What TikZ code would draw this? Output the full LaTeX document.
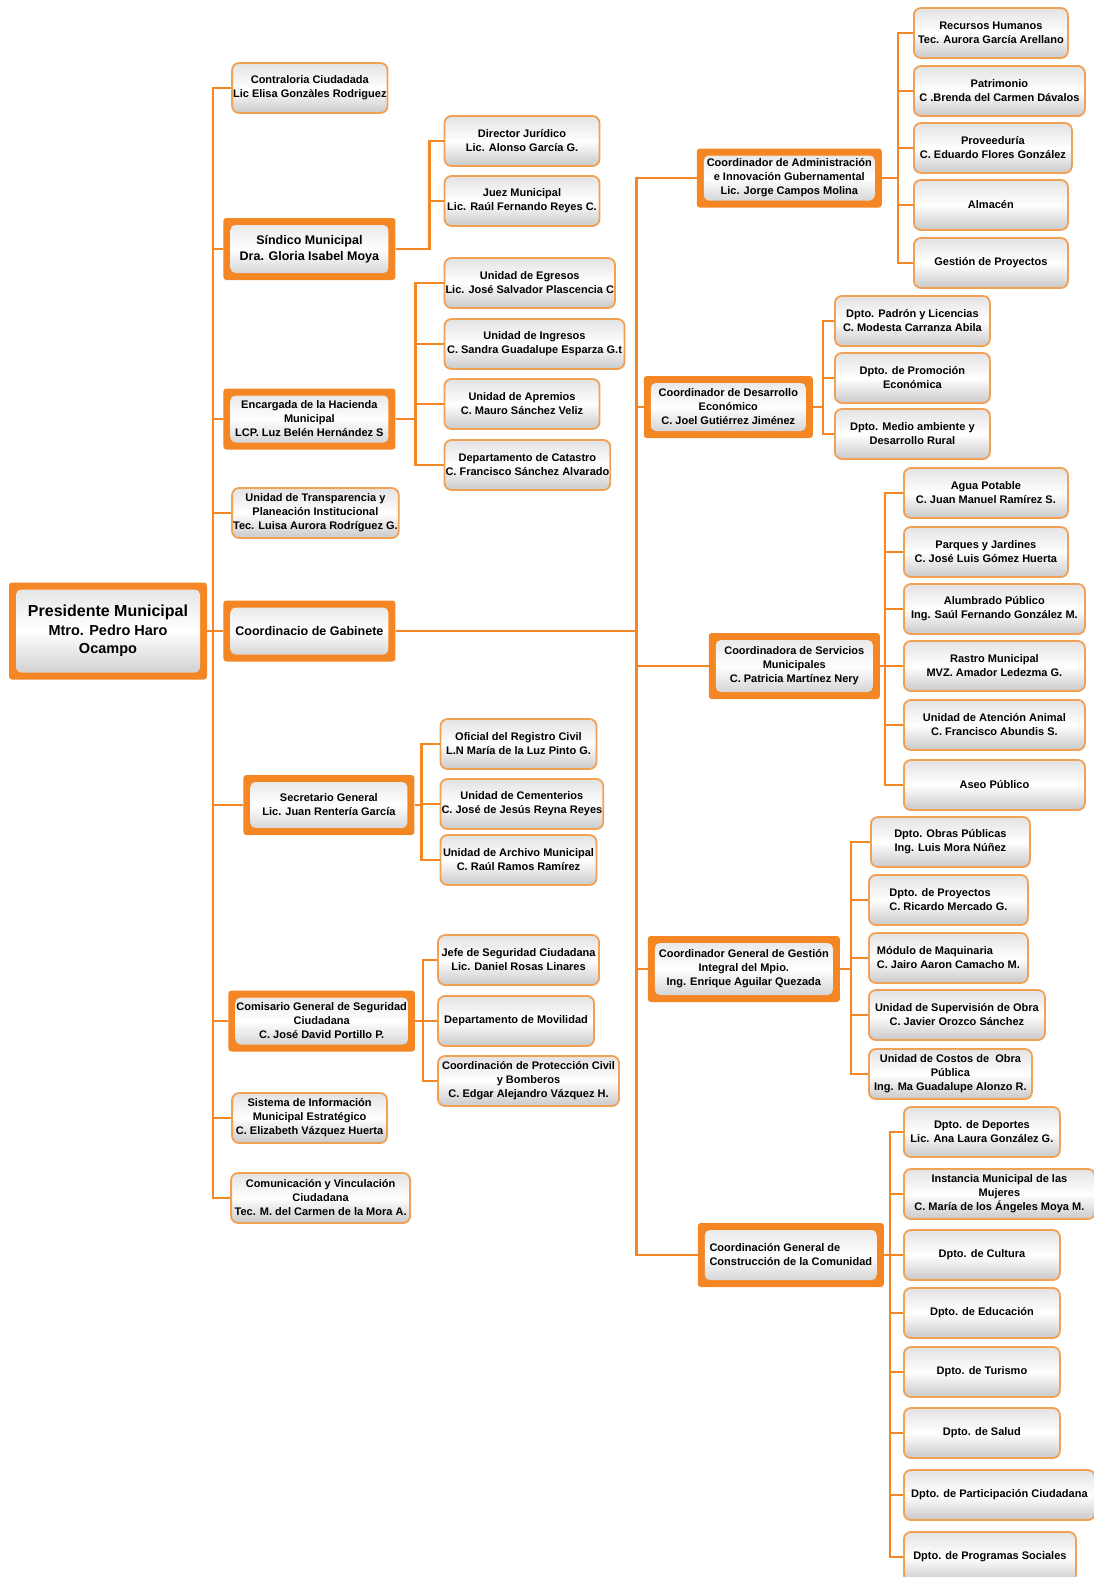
\documentclass[tikz,border=0pt]{standalone}
\usepackage{fontspec}
\setmainfont{Liberation Sans}
\usepackage{tikz}
\definecolor{naranja}{RGB}{245,134,36}
\definecolor{borde}{RGB}{242,160,84}
\newcommand{\unitfont}{\bfseries\fontsize{11}{14}\selectfont}
\newcommand{\bossfont}{\bfseries\fontsize{12.5}{15.5}\selectfont}
\tikzstyle{unit} = [rectangle, rounded corners=7pt, draw=borde, line width=1.8pt, top color=gray!22, bottom color=gray!42, middle color=white, align=center, anchor=west, minimum height=50pt, inner xsep=1pt, inner ysep=1pt, font=\unitfont]
\tikzstyle{boss} = [rectangle, rounded corners=3pt, fill=naranja, align=center, anchor=west, inner sep=8pt, font=\unitfont,
	path picture={\shade[top color=gray!22, bottom color=gray!42, middle color=white, rounded corners=5pt] ([shift={(7pt,-7pt)}]path picture bounding box.north west) rectangle ([shift={(-7pt,7pt)}]path picture bounding box.south east);}]
\tikzstyle{link} = [draw=naranja, line width=2.5pt]

\begin{document}
\begin{tikzpicture}
	\useasboundingbox (0pt,0pt) rectangle (1093pt,-1577pt);
	\node[boss, anchor=center, minimum width=198pt, minimum height=97pt, font=\bfseries\fontsize{14.5}{18.5}\selectfont] (pres) at (108pt,-631pt) {{\fontsize{16}{18.5}\selectfont Presidente Municipal}\\Mtro. Pedro Haro\\Ocampo};

	% izquierda
	\node[unit, minimum width=155pt] at ([xshift=24pt, yshift=543pt]pres.east) (contra) {Contraloria Ciudadada\\Lic Elisa Gonzàles Rodriguez};
	\node[boss, minimum width=172pt, minimum height=62pt, font=\bossfont] at ([xshift=16pt, yshift=382pt]pres.east) (sind) {Síndico Municipal\\Dra. Gloria Isabel Moya};
	\node[boss, minimum width=172pt, minimum height=61pt] at ([xshift=16pt, yshift=212pt]pres.east) (hac) {Encargada de la Hacienda\\Municipal\\LCP. Luz Belén Hernández S};
	\node[unit, minimum width=165pt] at ([xshift=24pt, yshift=118pt]pres.east) (transp) {Unidad de Transparencia y\\Planeación Institucional\\Tec. Luisa Aurora Rodríguez G.};
	\node[boss, minimum width=172pt, minimum height=61pt, font=\bossfont] at ([xshift=16pt]pres.east) (gab) {Coordinacio de Gabinete};
	\node[boss, minimum width=171pt, minimum height=60pt] at ([xshift=36pt, yshift=-174pt]pres.east) (sec) {Secretario General\\Lic. Juan Rentería García};
	\node[boss, minimum width=186pt, minimum height=61pt] at ([xshift=21pt, yshift=-390pt]pres.east) (com) {Comisario General de Seguridad\\Ciudadana\\C. José David Portillo P.};
	\node[unit, minimum width=155pt] at ([xshift=24pt, yshift=-487pt]pres.east) (sim) {Sistema de Información\\Municipal Estratégico\\C. Elizabeth Vázquez Huerta};
	\node[unit, minimum width=179pt] at ([xshift=23pt, yshift=-567pt]pres.east) (comu) {Comunicación y Vinculación\\Ciudadana\\Tec. M. del Carmen de la Mora A.};

	\node[unit, minimum width=155pt] at ([xshift=48pt, yshift=108pt]sind.east) (jur) {Director Jurídico\\Lic. Alonso García G.};
	\node[unit, minimum width=155pt] at ([xshift=48pt, yshift=48pt]sind.east) (juez) {Juez Municipal\\Lic. Raúl Fernando Reyes C.};

	\node[unit, minimum width=169pt] at ([xshift=48pt, yshift=136pt]hac.east) (egr) {Unidad de Egresos\\Lic. José Salvador Plascencia C};
	\node[unit, minimum width=180pt] at ([xshift=48pt, yshift=75pt]hac.east) (ing) {Unidad de Ingresos\\C. Sandra Guadalupe Esparza G.t};
	\node[unit, minimum width=155pt] at ([xshift=48pt, yshift=15pt]hac.east) (apr) {Unidad de Apremios\\C. Mauro Sánchez Veliz};
	\node[unit, minimum width=164pt] at ([xshift=48pt, yshift=-46pt]hac.east) (cat) {Departamento de Catastro\\C. Francisco Sánchez Alvarado};

	\node[unit, minimum width=156pt] at ([xshift=25pt, yshift=61pt]sec.east) (reg) {Oficial del Registro Civil\\L.N María de la Luz Pinto G.};
	\node[unit, minimum width=162pt] at ([xshift=25pt, yshift=1pt]sec.east) (cem) {Unidad de Cementerios\\C. José de Jesús Reyna Reyes};
	\node[unit, minimum width=156pt] at ([xshift=25pt, yshift=-55pt]sec.east) (arch) {Unidad de Archivo Municipal\\C. Raúl Ramos Ramírez};

	\node[unit, minimum width=161pt] at ([xshift=22pt, yshift=61pt]com.east) (jefe) {Jefe de Seguridad Ciudadana\\Lic. Daniel Rosas Linares};
	\node[unit, minimum width=156pt] at ([xshift=22pt]com.east) (mov) {Departamento de Movilidad};
	\node[unit, minimum width=181pt] at ([xshift=22pt, yshift=-60pt]com.east) (prot) {Coordinación de Protección Civil\\y Bomberos\\C. Edgar Alejandro Vázquez H.};

	% derecha
	\node[boss, minimum width=185pt, minimum height=59pt] at ([xshift=301pt, yshift=453pt]gab.east) (adm) {Coordinador de Administración\\e Innovación Gubernamental\\Lic. Jorge Campos Molina};
	\node[boss, minimum width=169pt, minimum height=62pt] at ([xshift=248pt, yshift=224pt]gab.east) (des) {Coordinador de Desarrollo\\Económico\\C. Joel Gutiérrez Jiménez};
	\node[boss, minimum width=171pt, minimum height=66pt] at ([xshift=313pt, yshift=-35pt]gab.east) (serv) {Coordinadora de Servicios\\Municipales\\C. Patricia Martínez Nery};
	\node[boss, minimum width=192pt, minimum height=66pt] at ([xshift=252pt, yshift=-338pt]gab.east) (ges) {Coordinador General de Gestión\\Integral del Mpio.\\Ing. Enrique Aguilar Quezada};
	\node[boss, minimum width=186pt, minimum height=64pt, align=left] at ([xshift=302pt, yshift=-624pt]gab.east) (cons) {Coordinación General de\\Construcción de la Comunidad};

	\node[unit, minimum width=154pt] at ([xshift=31pt, yshift=145pt]adm.east) (rh) {Recursos Humanos\\Tec. Aurora García Arellano};
	\node[unit, minimum width=171pt] at ([xshift=31pt, yshift=87pt]adm.east) (pat) {Patrimonio\\C .Brenda del Carmen Dávalos};
	\node[unit, minimum width=158pt] at ([xshift=31pt, yshift=30pt]adm.east) (prov) {Proveeduría\\C. Eduardo Flores González};
	\node[unit, minimum width=154pt] at ([xshift=31pt, yshift=-27pt]adm.east) (alm) {Almacén};
	\node[unit, minimum width=154pt] at ([xshift=31pt, yshift=-85pt]adm.east) (gproy) {Gestión de Proyectos};

	\node[unit, minimum width=155pt] at ([xshift=21pt, yshift=86pt]des.east) (pad) {Dpto. Padrón y Licencias\\C. Modesta Carranza Abila};
	\node[unit, minimum width=155pt] at ([xshift=21pt, yshift=29pt]des.east) (prom) {Dpto. de Promoción\\Económica};
	\node[unit, minimum width=155pt] at ([xshift=21pt, yshift=-27pt]des.east) (med) {Dpto. Medio ambiente y\\Desarrollo Rural};

	\node[unit, minimum width=164pt] at ([xshift=23pt, yshift=173pt]serv.east) (agua) {Agua Potable\\C. Juan Manuel Ramírez S.};
	\node[unit, minimum width=164pt] at ([xshift=23pt, yshift=114pt]serv.east) (parq) {Parques y Jardines\\C. José Luis Gómez Huerta};
	\node[unit, minimum width=181pt] at ([xshift=23pt, yshift=57pt]serv.east) (alum) {Alumbrado Público\\Ing. Saúl Fernando González M.};
	\node[unit, minimum width=181pt] at ([xshift=23pt]serv.east) (rast) {Rastro Municipal\\MVZ. Amador Ledezma G.};
	\node[unit, minimum width=181pt] at ([xshift=23pt, yshift=-59pt]serv.east) (aten) {Unidad de Atención Animal\\C. Francisco Abundis S.};
	\node[unit, minimum width=181pt] at ([xshift=23pt, yshift=-119pt]serv.east) (aseo) {Aseo Público};

	\node[unit, minimum width=159pt] at ([xshift=30pt, yshift=127pt]ges.east) (obras) {Dpto. Obras Públicas\\Ing. Luis Mora Núñez};
	\node[unit, minimum width=159pt, align=left] at ([xshift=28pt, yshift=69pt]ges.east) (dproy) {Dpto. de Proyectos\\C. Ricardo Mercado G.};
	\node[unit, minimum width=159pt, align=left] at ([xshift=28pt, yshift=11pt]ges.east) (maq) {Módulo de Maquinaria\\C. Jairo Aaron Camacho M.};
	\node[unit, minimum width=176pt] at ([xshift=28pt, yshift=-46pt]ges.east) (sup) {Unidad de Supervisión de Obra\\C. Javier Orozco Sánchez};
	\node[unit, minimum width=163pt] at ([xshift=28pt, yshift=-105pt]ges.east) (cost) {Unidad de Costos de\ \ Obra\\Pública\\Ing. Ma Guadalupe Alonzo R.};

	\node[unit, minimum width=156pt] at ([xshift=19pt, yshift=123pt]cons.east) (dep) {Dpto. de Deportes\\Lic. Ana Laura González G.};
	\node[unit, minimum width=191pt] at ([xshift=19pt, yshift=61pt]cons.east) (muj) {Instancia Municipal de las\\Mujeres\\C. María de los Ángeles Moya M.};
	\node[unit, minimum width=156pt] at ([xshift=19pt]cons.east) (cult) {Dpto. de Cultura};
	\node[unit, minimum width=156pt] at ([xshift=19pt, yshift=-58pt]cons.east) (edu) {Dpto. de Educación};
	\node[unit, minimum width=156pt] at ([xshift=19pt, yshift=-117pt]cons.east) (tur) {Dpto. de Turismo};
	\node[unit, minimum width=156pt] at ([xshift=19pt, yshift=-178pt]cons.east) (sal) {Dpto. de Salud};
	\node[unit, minimum width=191pt] at ([xshift=19pt, yshift=-240pt]cons.east) (part) {Dpto. de Participación Ciudadana};
	\node[unit, minimum width=172pt] at ([xshift=19pt, yshift=-302pt]cons.east) (prog) {Dpto. de Programas Sociales};

	\foreach \b in {contra, sind, hac, transp, gab, sec, com, sim, comu}{
		\draw[link] (pres.east) -- ++(6pt,0) |- (\b.west);
	}
	\foreach \b in {jur, juez}{\draw[link] (sind.east) -- ++(34pt,0) |- (\b.west);}
	\foreach \b in {egr, ing, apr, cat}{\draw[link] (hac.east) -- ++(20pt,0) |- (\b.west);}
	\foreach \b in {reg, cem, arch}{\draw[link] (sec.east) -- ++(7pt,0) |- (\b.west);}
	\foreach \b in {jefe, mov, prot}{\draw[link] (com.east) -- ++(8pt,0) |- (\b.west);}
	\foreach \b in {adm, des, serv, ges, cons}{\draw[link] (gab.east) -- ++(241pt,0) |- (\b.west);}
	\foreach \b in {rh, pat, prov, alm, gproy}{\draw[link] (adm.east) -- ++(16pt,0) |- (\b.west);}
	\foreach \b in {pad, prom, med}{\draw[link] (des.east) -- ++(10pt,0) |- (\b.west);}
	\foreach \b in {agua, parq, alum, rast, aten, aseo}{\draw[link] (serv.east) -- ++(5pt,0) |- (\b.west);}
	\foreach \b in {obras, dproy, maq, sup, cost}{\draw[link] (ges.east) -- ++(11pt,0) |- (\b.west);}
	\foreach \b in {dep, muj, cult, edu, tur, sal, part, prog}{\draw[link] (cons.east) -- ++(6pt,0) |- (\b.west);}
\end{tikzpicture}
\end{document}
